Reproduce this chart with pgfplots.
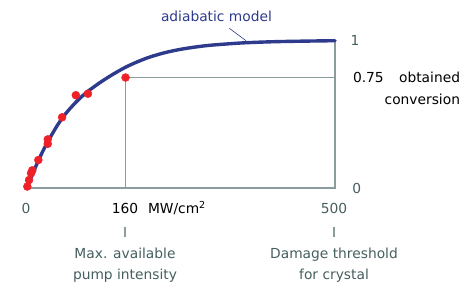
\documentclass[border=0pt]{standalone}
\usepackage{fontspec}
\setmainfont{DejaVu Sans}
\usepackage{pgfplots}
\pgfplotsset{compat=1.18}
\definecolor{curveblue}{HTML}{2E3A8C}
\definecolor{dotred}{HTML}{EE2028}
\definecolor{framegray}{HTML}{8A9C9C}
\definecolor{slate}{HTML}{465E5E}
\begin{document}
\begin{tikzpicture}[x=1pt,y=1pt]
\path[use as bounding box] (-27,-95) rectangle (441,188);
\begin{axis}[
  at={(0,0)}, anchor=south west,
  scale only axis, width=308pt, height=147.3pt,
  xmin=0, xmax=500, ymin=0, ymax=1,
  axis lines=none, clip=false,
]
\addplot[framegray, line width=1.5pt] coordinates {(0,0) (500,0) (500,1)};
\addplot[framegray, line width=1.5pt] coordinates {(160,0) (160,0.75) (500,0.75)};
\addplot[curveblue, line width=3.4pt, smooth, line cap=round] coordinates {
(0,0) (5,0.055) (10,0.105) (20,0.20) (30,0.285) (40,0.36) (50,0.43) (60,0.49)
(70,0.54) (80,0.585) (90,0.625) (100,0.66) (120,0.72) (140,0.773) (160,0.82)
(180,0.858) (200,0.89) (225,0.92) (250,0.942) (275,0.958) (300,0.97)
(350,0.985) (400,0.993) (450,0.997) (500,1.0)};
\addplot[only marks, mark=*, mark size=4pt, dotred, mark options={draw=none, fill=dotred}] coordinates {
(0.5,0.01) (3.3,0.054) (6.5,0.10) (8.6,0.12) (18.4,0.19) (33.7,0.33) (33.7,0.30)
(57,0.48) (79.3,0.63) (98.9,0.64) (160,0.75)};
\end{axis}
\begin{scope}[every node/.style={inner sep=0pt, outer sep=0pt}, font=\fontsize{13.8}{16}\selectfont]
\draw[curveblue, line width=0.6pt] (202.3,159.7) -- (219,147.3);
\node[anchor=base west, text=curveblue] at (134,166) {adiabatic model};
\node[anchor=center, text=slate] at (328,147.5) {1};
\node[anchor=center, text=slate] at (329.7,-0.5) {0};
\node[anchor=base west, text=black] at (326,105.5) {0.75};
\node[anchor=base east, text=black] at (433,105.5) {obtained};
\node[anchor=base east, text=black] at (433,83) {conversion};
\node[anchor=base, text=slate] at (-1,-25.3) {0};
\node[anchor=base, text=black] at (98,-25.3) {160};
\node[anchor=base west, text=black] at (121,-25.3) {MW/cm\textsuperscript{2}};
\node[anchor=base, text=slate] at (307,-25.3) {500};
\draw[framegray, line width=1.2pt] (98,-38.7) -- (98,-48.7);
\draw[framegray, line width=1.2pt] (307,-38.7) -- (307,-48.7);
\node[anchor=base, text=slate] at (98,-71) {Max. available};
\node[anchor=base, text=slate] at (98,-91.5) {pump intensity};
\node[anchor=base, text=slate] at (307,-71) {Damage threshold};
\node[anchor=base, text=slate] at (307,-91.5) {for crystal};
\end{scope}
\end{tikzpicture}
\end{document}
